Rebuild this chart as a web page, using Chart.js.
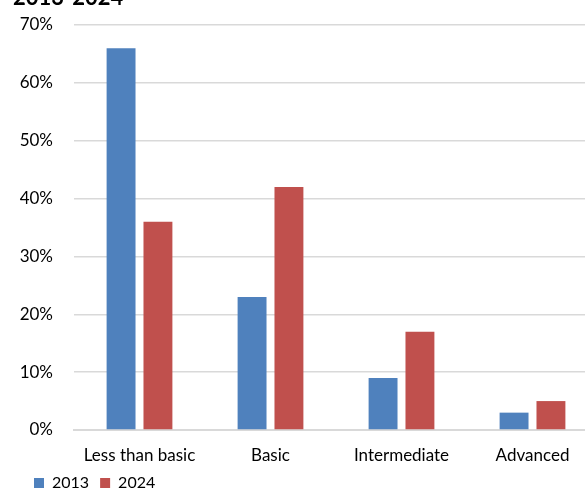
<!DOCTYPE html>
<html>
<head>
<meta charset="utf-8">
<script src="https://cdn.jsdelivr.net/npm/chart.js@4"></script>
<style>
  html, body { margin: 0; padding: 0; background: #fff; overflow: hidden; }
  #wrap { position: relative; width: 585px; height: 489px; overflow: hidden; }
  #chart { position: absolute; left: 0; top: -15px; }
</style>
</head>
<body>
<div id="wrap"><canvas id="chart" width="600" height="516"></canvas></div>
<script>
const categories = ['Less than basic', 'Basic', 'Intermediate', 'Advanced'];
const seriesNames = ['2013', '2024'];
const values2013 = [66, 23, 9, 3];
const values2024 = [36, 42, 17, 5];
const yTicks = [0, 10, 20, 30, 40, 50, 60, 70];
const titleText = '2013-2024';

const BLUE = '#4F81BD';
const RED = '#C0504D';
const GRID = '#d9d9d9';
const FONT = 'Lato, "Liberation Sans", sans-serif';

// indents the bottom legend a little from the left edge
const legendInset = {
  id: 'legendInset',
  afterLayout(chart) {
    if (chart.legend) { chart.legend.left += 10; }
  }
};

new Chart(document.getElementById('chart'), {
  type: 'bar',
  data: {
    labels: categories,
    datasets: [
      { label: seriesNames[0], data: values2013, backgroundColor: BLUE },
      { label: seriesNames[1], data: values2024, backgroundColor: RED }
    ]
  },
  plugins: [legendInset],
  options: {
    responsive: false,
    animation: false,
    devicePixelRatio: 1,
    layout: { padding: { left: 13, right: 2, top: 0, bottom: 0 } },
    datasets: { bar: { categoryPercentage: 0.563, barPercentage: 0.784 } },
    plugins: {
      title: {
        display: true,
        text: titleText,
        align: 'start',
        color: '#000',
        font: { family: FONT, size: 22, weight: 'bold', lineHeight: 1.2 },
        padding: { top: 0, bottom: 13.6 }
      },
      legend: {
        position: 'bottom',
        align: 'start',
        labels: {
          color: '#000',
          boxWidth: 10,
          boxHeight: 10,
          padding: 11,
          font: { family: FONT, size: 16 }
        }
      },
      tooltip: { enabled: false }
    },
    scales: {
      x: {
        afterFit(scale) { scale.height = 34; },
        grid: { display: false, drawTicks: false },
        border: { display: true, color: GRID, width: 2 },
        ticks: { color: '#000', padding: 15, font: { family: FONT, size: 17 }, maxRotation: 0 }
      },
      y: {
        min: 0,
        max: 70,
        afterFit(scale) { scale.width = 61; },
        afterBuildTicks(scale) { scale.ticks = yTicks.map(v => ({ value: v })); },
        grid: { color: GRID, lineWidth: 1.5, drawTicks: false },
        border: { display: false },
        ticks: {
          color: '#000',
          padding: 21,
          font: { family: FONT, size: 17 },
          callback: v => v + '%'
        }
      }
    }
  }
});
</script>
</body>
</html>
